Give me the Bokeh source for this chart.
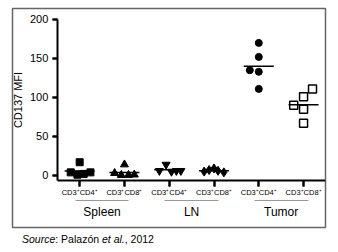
import numpy as np
from bokeh.plotting import figure
from bokeh.models import LinearAxis, FixedTicker, Range1d, Div
from bokeh.layouts import column
from bokeh.embed import file_html
from bokeh.resources import INLINE

# ---- data ----
groups = ["Spleen", "LN", "Tumor"]
categories = ["CD3⁺CD4⁺", "CD3⁺CD8⁺", "CD3⁺CD4⁺", "CD3⁺CD8⁺", "CD3⁺CD4⁺", "CD3⁺CD8⁺"]
spleen_cd4 = [4, 17, 1, 2, 4]
spleen_cd8 = [3, 14, 0.5, 0.5, 1]
ln_cd4 = [6, 14, 5, 6, 6]
ln_cd8 = [5, 7, 9, 6, 4]
tumor_cd4 = [170, 152, 135, 133, 111]
tumor_cd8 = [111, 101, 90, 85, 67]
y_ticks = [0, 50, 100, 150, 200]
series = [spleen_cd4, spleen_cd8, ln_cd4, ln_cd8, tumor_cd4, tumor_cd8]
source_html = "<i>Source</i>: Palazón <i>et al.</i>, 2012"

# ---- layout / style (not data) ----
jitter = [
    [-0.2, 0.0, -0.05, 0.09, 0.24],
    [-0.22, 0.0, -0.07, 0.09, 0.22],
    [-0.22, -0.07, 0.05, 0.16, 0.26],
    [-0.22, -0.11, 0.0, 0.09, 0.22],
    [0.0, 0.0, -0.2, 0.0, 0.0],
    [0.2, 0.0, -0.22, 0.0, 0.0],
]
styles = [
    dict(marker="square", size=7, fill_color="black", line_color="black", line_width=1),
    dict(marker="triangle", size=8, fill_color="black", line_color="black", line_width=1),
    dict(marker="inverted_triangle", size=8, fill_color="black", line_color="black", line_width=1),
    dict(marker="diamond", size=9, fill_color="black", line_color="black", line_width=1),
    dict(marker="circle", size=7, fill_color="black", line_color="black", line_width=1),
    dict(marker="square", size=8, fill_color="white", line_color="black", line_width=1.5),
]
FONT = "Liberation Sans"
X0, X1 = -0.5, 6.49
Y0, Y1 = -66.7, 214.1
AXIS_X = 0.5
AXIS_Y = -6.4
GROUP_Y = -32.1

p = figure(width=338, height=229, output_backend="svg", toolbar_location=None,
           x_axis_type=None, y_axis_type=None,
           x_range=Range1d(X0, X1), y_range=Range1d(Y0, Y1),
           min_border_left=12, min_border_right=13, min_border_top=8, min_border_bottom=2)
p.background_fill_color = "white"
p.border_fill_color = "white"
p.outline_line_color = "#666666"
p.outline_line_width = 1.5

positions = [1.0, 2.0, 3.0, 4.0, 5.0, 6.0]

for pos, vals, jit, st in zip(positions, series, jitter, styles):
    xs = [pos + j for j in jit]
    p.scatter(xs, vals, **st)
    p.scatter([pos], [float(np.mean(vals))], marker="dash", size=30,
              line_color="black", line_width=1.5)


def tick_only_axis(ticks, loc, side, out):
    ax = LinearAxis(ticker=FixedTicker(ticks=ticks, minor_ticks=[]),
                    major_label_overrides={t: "" for t in ticks})
    ax.fixed_location = loc
    ax.axis_line_color = None
    ax.major_tick_line_color = "black"
    ax.major_tick_line_width = 2
    ax.major_tick_out = out
    ax.major_tick_in = 0
    ax.minor_tick_line_color = None
    p.add_layout(ax, side)


# y axis
yax = LinearAxis(ticker=FixedTicker(ticks=y_ticks, minor_ticks=[]), axis_label="CD137 MFI")
yax.fixed_location = AXIS_X
yax.bounds = (AXIS_Y, 200)
yax.axis_line_color = "black"
yax.axis_line_width = 2
yax.major_tick_line_color = "black"
yax.major_tick_line_width = 2
yax.major_tick_out = 5
yax.major_tick_in = 0
yax.minor_tick_line_color = None
yax.major_label_text_font = FONT
yax.major_label_text_font_size = "11px"
yax.major_label_text_color = "black"
yax.major_label_standoff = 4
yax.axis_label_text_font = FONT
yax.axis_label_text_font_size = "11px"
yax.axis_label_text_font_style = "normal"
yax.axis_label_text_color = "black"
yax.axis_label_standoff = 3
p.add_layout(yax, "left")
tick_only_axis(y_ticks, AXIS_X, "left", 5)

# x axis (categories)
xax = LinearAxis(ticker=FixedTicker(ticks=positions, minor_ticks=[]),
                 major_label_overrides={pos: c for pos, c in zip(positions, categories)})
xax.fixed_location = AXIS_Y
xax.bounds = (AXIS_X, X1)
xax.axis_line_color = "black"
xax.axis_line_width = 2
xax.major_tick_line_color = "black"
xax.major_tick_line_width = 2
xax.major_tick_out = 6
xax.major_tick_in = 0
xax.minor_tick_line_color = None
xax.major_label_text_font = FONT
xax.major_label_text_font_size = "7.5px"
xax.major_label_text_color = "black"
xax.major_label_standoff = 2
p.add_layout(xax, "below")
tick_only_axis(positions, AXIS_Y, "below", 6)

# group axes with underline
for gi, g in enumerate(groups):
    c = positions[2 * gi] + 0.5
    gax = LinearAxis(ticker=FixedTicker(ticks=[c], minor_ticks=[]), major_label_overrides={c: g})
    gax.fixed_location = GROUP_Y
    gax.bounds = (c - 0.6, c + 0.6)
    gax.axis_line_color = "#999999"
    gax.axis_line_width = 1
    gax.major_tick_line_color = None
    gax.minor_tick_line_color = None
    gax.major_label_text_font = FONT
    gax.major_label_text_font_size = "12px"
    gax.major_label_text_color = "black"
    gax.major_label_standoff = -2
    p.add_layout(gax, "below")

div = Div(text=source_html, width=338, height=20,
          styles={"font-family": FONT, "font-size": "10.5px", "color": "black",
                  "padding-left": "22px", "margin": "0", "line-height": "20px"})

layout = column(p, div, spacing=0)
open("out.html", "w").write(file_html(layout, INLINE))
